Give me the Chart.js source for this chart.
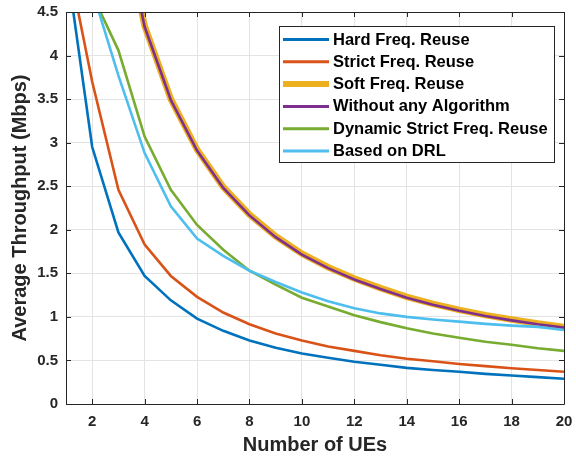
<!DOCTYPE html>
<html><head><meta charset="utf-8">
<script src="https://cdn.jsdelivr.net/npm/chart.js@4/dist/chart.umd.min.js"></script>
<style>html,body{margin:0;padding:0;background:#fff}#wrap{width:576px;height:460px}</style>
</head><body><div id="wrap"><canvas id="c" width="576" height="460"></canvas></div>
<script>
const ues = [1,2,3,4,5,6,7,8,9,10,11,12,13,14,15,16,17,18,19,20];
const hardFR    = [5.1,2.95,1.97,1.47,1.19,0.98,0.84,0.73,0.646,0.58,0.53,0.485,0.45,0.415,0.39,0.37,0.346,0.327,0.308,0.29];
const strictFR  = [5.2,3.70,2.46,1.83,1.47,1.23,1.05,0.915,0.81,0.73,0.66,0.61,0.56,0.52,0.49,0.46,0.435,0.41,0.39,0.37];
const softFR    = [17.3,8.65,5.77,4.34,3.50,2.92,2.49,2.175,1.925,1.725,1.57,1.44,1.33,1.23,1.15,1.08,1.02,0.97,0.925,0.885];
const noAlgo    = [17.3,8.65,5.77,4.33,3.49,2.91,2.48,2.165,1.915,1.715,1.56,1.43,1.32,1.22,1.14,1.07,1.01,0.96,0.915,0.877];
const dynStrict = [5.3,4.70,4.06,3.07,2.46,2.055,1.77,1.53,1.37,1.22,1.12,1.02,0.94,0.87,0.81,0.76,0.715,0.68,0.64,0.61];
const drl       = [5.8,4.75,3.77,2.88,2.27,1.90,1.70,1.53,1.40,1.28,1.18,1.10,1.04,1.0,0.97,0.946,0.92,0.90,0.885,0.85];
const xTicks = [2,4,6,8,10,12,14,16,18,20];
const yTicks = [0,0.5,1,1.5,2,2.5,3,3.5,4,4.5];
const seriesNames = ['Hard Freq. Reuse','Strict Freq. Reuse','Soft Freq. Reuse','Without any Algorithm','Dynamic Strict Freq. Reuse','Based on DRL'];
const colors = ['#0072BD','#D95319','#EDB120','#7E2F8E','#77AC30','#4DBEEE'];
const widths = [2.6,2.6,6.5,2.6,2.6,2.6];
const seriesData = [hardFR,strictFR,softFR,noAlgo,dynStrict,drl];

const FONT = '"Liberation Sans", Arial, Helvetica, sans-serif';
const AX = '#262626';

const datasets = seriesData.map((arr,i)=>({
  label: seriesNames[i],
  data: arr.map((v,j)=>({x:ues[j],y:v})),
  borderColor: colors[i],
  backgroundColor: colors[i],
  borderWidth: widths[i],
  pointRadius: 0,
  tension: 0,
  fill: false,
  order: 6 - i
}));

function zeroPad(s){ s.paddingLeft = 0; s.paddingRight = 0; s.paddingTop = 0; s.paddingBottom = 0; }

const boxPlugin = {
  id: 'boxPlugin',
  afterDatasetsDraw(chart){
    const {ctx, chartArea:a, scales:{x,y}} = chart;
    ctx.save();
    ctx.strokeStyle = AX; ctx.lineWidth = 1;
    ctx.beginPath();
    ctx.rect(Math.round(a.left)+0.5, Math.round(a.top)+0.5, Math.round(a.right-a.left), Math.round(a.bottom-a.top));
    ctx.stroke();
    ctx.beginPath();
    xTicks.forEach(v=>{
      const px = Math.round(x.getPixelForValue(v))+0.5;
      ctx.moveTo(px,a.bottom); ctx.lineTo(px,a.bottom-5);
      ctx.moveTo(px,a.top); ctx.lineTo(px,a.top+5);
    });
    yTicks.forEach(v=>{
      const py = Math.round(y.getPixelForValue(v))+0.5;
      ctx.moveTo(a.left,py); ctx.lineTo(a.left+5,py);
      ctx.moveTo(a.right,py); ctx.lineTo(a.right-5,py);
    });
    ctx.stroke();
    // legend
    const L = 279.5, T = 26.5, W = 275, H = 136;
    ctx.fillStyle = '#fff';
    ctx.fillRect(L,T,W,H);
    ctx.strokeStyle = AX;
    ctx.strokeRect(L,T,W,H);
    ctx.font = 'bold 16.5px ' + FONT;
    ctx.textBaseline = 'middle';
    ctx.textAlign = 'left';
    for(let i=0;i<seriesNames.length;i++){
      const cy = 39.5 + i*22.3;
      ctx.strokeStyle = colors[i];
      ctx.lineWidth = i===2 ? 6 : 3;
      ctx.beginPath(); ctx.moveTo(283,cy); ctx.lineTo(329,cy); ctx.stroke();
      ctx.fillStyle = '#000';
      ctx.fillText(seriesNames[i], 333, cy+0.5);
    }
    ctx.restore();
  }
};

new Chart(document.getElementById('c'), {
  type: 'line',
  data: { datasets },
  plugins: [boxPlugin],
  options: {
    responsive: false,
    animation: false,
    devicePixelRatio: 1,
    layout: { padding: { top: 12, right: 12, left: 0, bottom: 0 } },
    plugins: { legend: { display: false }, tooltip: { enabled: false } },
    scales: {
      x: {
        type: 'linear', min: 1, max: 20,
        afterBuildTicks: s => { s.ticks = xTicks.map(v=>({value:v})); },
        afterFit: s => { s.height = 56; zeroPad(s); },
        grid: { color: '#e3e3e3', lineWidth: 1, drawTicks: false },
        border: { display: false },
        ticks: { color: AX, font: { family: FONT, size: 15, weight: 'bold' }, padding: 9, maxRotation: 0,
                 callback: v => String(v) },
        title: { display: true, text: 'Number of UEs', color: AX, font: { family: FONT, size: 20, weight: 'bold' }, padding: { top: 4, bottom: 3 } }
      },
      y: {
        type: 'linear', min: 0, max: 4.5,
        afterBuildTicks: s => { s.ticks = yTicks.map(v=>({value:v})); },
        afterFit: s => { s.width = 66; zeroPad(s); },
        grid: { color: '#e3e3e3', lineWidth: 1, drawTicks: false },
        border: { display: false },
        ticks: { color: AX, font: { family: FONT, size: 15, weight: 'bold' }, padding: 8,
                 callback: v => String(v) },
        title: { display: true, text: 'Average Throughput (Mbps)', color: AX, font: { family: FONT, size: 20, weight: 'bold' }, padding: { top: 8, bottom: 0 } }
      }
    }
  }
});
</script></body></html>
